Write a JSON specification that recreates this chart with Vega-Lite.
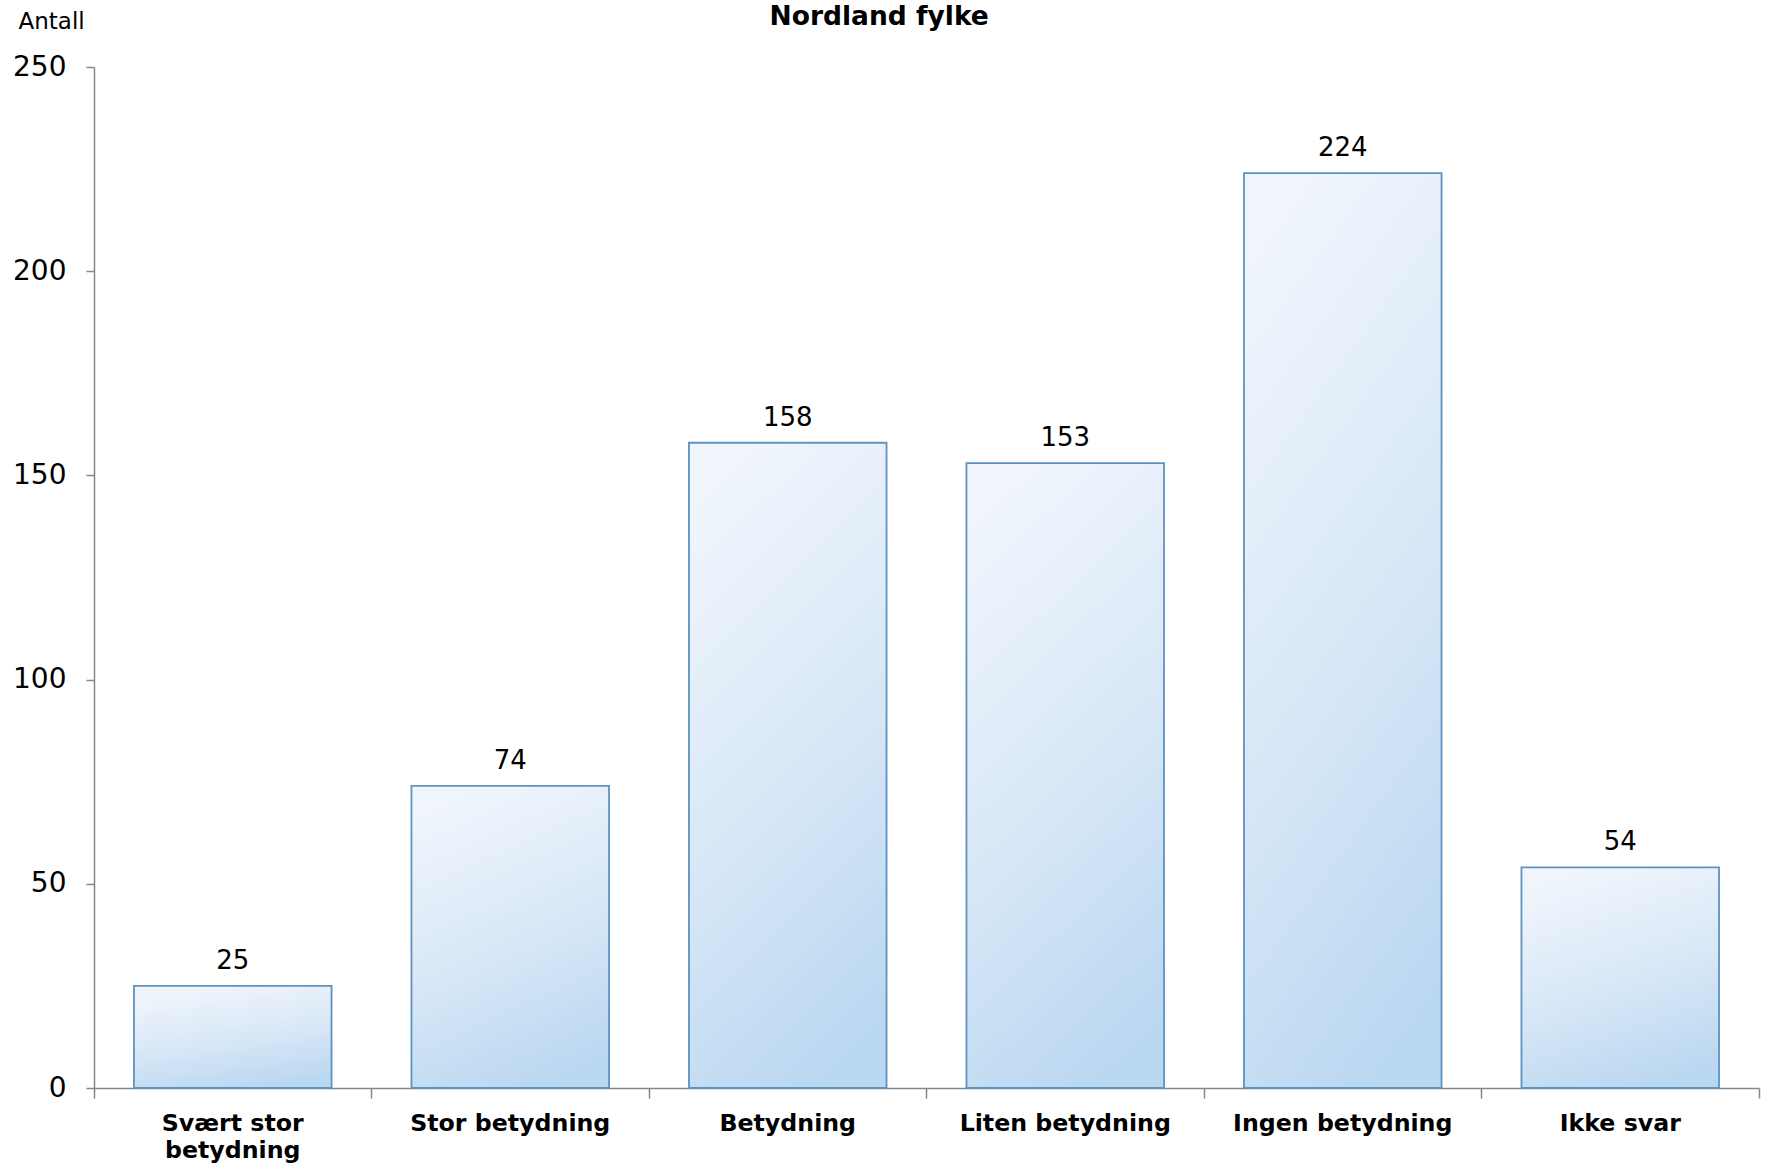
{
  "$schema": "https://vega.github.io/schema/vega-lite/v6.json",
  "autosize": {"type": "none"},
  "width": 1665,
  "height": 1021,
  "padding": {"left": 94, "top": 67, "right": 12, "bottom": 75},
  "background": "white",
  "title": {
    "text": "Nordland fylke",
    "font": "DejaVu Sans",
    "fontSize": 26.5,
    "fontWeight": "bold",
    "color": "#000000",
    "anchor": "middle",
    "frame": "bounds",
    "offset": -20,
    "dx": -7
  },
  "config": {
    "view": {"stroke": null},
    "font": "DejaVu Sans"
  },
  "data": {
    "values": [
      {"kategori": "Svært stor betydning", "antall": 25},
      {"kategori": "Stor betydning", "antall": 74},
      {"kategori": "Betydning", "antall": 158},
      {"kategori": "Liten betydning", "antall": 153},
      {"kategori": "Ingen betydning", "antall": 224},
      {"kategori": "Ikke svar", "antall": 54}
    ]
  },
  "encoding": {
    "x": {
      "field": "kategori",
      "type": "nominal",
      "sort": null,
      "scale": {"paddingInner": 0, "paddingOuter": 0},
      "axis": {
        "title": null,
        "labelAngle": 0,
        "labelFont": "DejaVu Sans",
        "labelFontSize": 23.7,
        "labelFontWeight": "bold",
        "labelColor": "#000000",
        "labelBaseline": "top",
        "labelPadding": 13,
        "labelLineHeight": 27,
        "labelLimit": 0,
        "labelExpr": "datum.label == 'Svært stor betydning' ? ['Svært stor', 'betydning'] : datum.label",
        "bandPosition": 1,
        "tickExtra": true,
        "tickSize": 10,
        "tickColor": "#868686",
        "tickWidth": 1.5,
        "domainColor": "#868686",
        "domainWidth": 1.5,
        "grid": false
      }
    },
    "y": {
      "field": "antall",
      "type": "quantitative",
      "scale": {"domain": [0, 250], "nice": false},
      "axis": {
        "values": [0, 50, 100, 150, 200, 250],
        "title": "Antall",
        "titleAngle": 0,
        "titleAlign": "left",
        "titleBaseline": "alphabetic",
        "titleX": -76,
        "titleY": -39,
        "titleFont": "DejaVu Sans",
        "titleFontSize": 23,
        "titleFontWeight": "normal",
        "titleColor": "#000000",
        "labelFont": "DejaVu Sans",
        "labelFontSize": 28,
        "labelColor": "#000000",
        "labelPadding": 20,
        "tickSize": 8,
        "tickColor": "#868686",
        "tickWidth": 1.5,
        "domainColor": "#868686",
        "domainWidth": 1.5,
        "grid": false
      }
    }
  },
  "layer": [
    {
      "mark": {
        "type": "bar",
        "width": {"band": 0.712},
        "stroke": "#5e93bf",
        "strokeWidth": 1.8,
        "color": {
          "gradient": "linear",
          "x1": 0.35, "y1": 0, "x2": 0.65, "y2": 1,
          "stops": [
            {"offset": 0, "color": "#f0f5fc"},
            {"offset": 0.5, "color": "#d9e8f7"},
            {"offset": 1, "color": "#bad7f1"}
          ]
        }
      }
    },
    {
      "mark": {
        "type": "text",
        "font": "DejaVu Sans",
        "fontSize": 26,
        "color": "#000000",
        "baseline": "alphabetic",
        "dy": -17
      },
      "encoding": {"text": {"field": "antall", "type": "quantitative"}}
    }
  ]
}
